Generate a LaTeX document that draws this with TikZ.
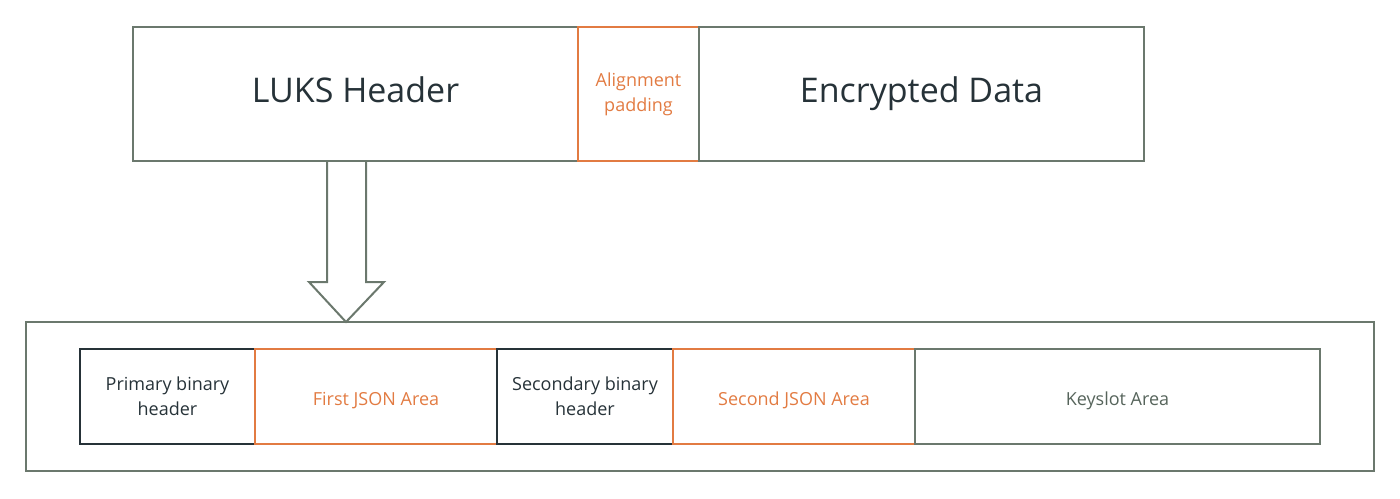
\documentclass[tikz,border=0pt]{standalone}
\usepackage{fontspec}
\setmainfont{Open Sans}
\usepackage{xcolor}
\usepackage{tikz}
\usetikzlibrary{positioning}

\definecolor{lineGray}{HTML}{6B786D}
\definecolor{lukOrange}{HTML}{E27B42}
\definecolor{lukNavy}{HTML}{263238}
\definecolor{keyText}{HTML}{56645B}

\begin{document}
\begin{tikzpicture}[x=0.5pt,y=-0.5pt,
        block/.style={draw=lineGray, line width=1pt, inner sep=0pt, outer sep=0pt, anchor=west, align=center},
        bigtext/.style={font=\fontsize{17}{20}\selectfont, text=lukNavy, text height=12.3pt, text depth=4pt},
        smalltext/.style={font=\fontsize{9}{12.5}\selectfont},
        oneline/.style={text height=8.5pt, text depth=0pt},
        orangebox/.style={block, draw=lukOrange, text=lukOrange, smalltext},
        navybox/.style={block, draw=lukNavy, text=lukNavy, smalltext}
    ]
        \useasboundingbox (0,0) rectangle (1400,498);

        % top row: volume layout
        \node[block, bigtext, minimum width=222.5pt, minimum height=67pt] (luks) at (133,94) {LUKS Header};
        \node[orangebox, minimum width=60.5pt, minimum height=67pt, right=0pt of luks] (pad) {Alignment\\padding};
        \node[block, bigtext, minimum width=222.5pt, minimum height=67pt, right=0pt of pad] (data) {Encrypted Data};

        % bottom: header layout
        \node[block, minimum width=674pt, minimum height=74.5pt] (outer) at (26,396.5) {};
        \node[navybox, minimum width=87.5pt, minimum height=47.5pt] (bin1) at (80,396.5) {Primary binary\\header};
        \node[orangebox, oneline, minimum width=121pt, minimum height=47.5pt, right=0pt of bin1] (json1) {First JSON Area};
        \node[navybox, minimum width=88pt, minimum height=47.5pt, right=0pt of json1] (bin2) {Secondary binary\\header};
        \node[orangebox, oneline, minimum width=121pt, minimum height=47.5pt, right=0pt of bin2] (json2) {Second JSON Area};
        \node[block, smalltext, oneline, text=keyText, minimum width=202.5pt, minimum height=47.5pt, right=0pt of json2] (keys) {Keyslot Area};

        % block arrow
        \coordinate (tip) at (346,322);
        \draw[lineGray, line width=1pt, line join=miter]
            (327,161) -- (327,282) -- (309,282) -- (tip) -- (384,282) -- (366,282) -- (366,161);
\end{tikzpicture}
\end{document}
